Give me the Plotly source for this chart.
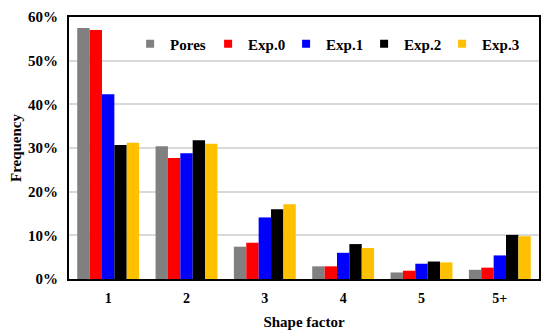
import plotly.graph_objects as go

categories = ["1", "2", "3", "4", "5", "5+"]
pores = [57.5, 30.4, 7.4, 2.9, 1.5, 2.1]
exp0 = [57.0, 27.7, 8.3, 2.9, 1.9, 2.6]
exp1 = [42.3, 28.8, 14.1, 6.0, 3.5, 5.4]
exp2 = [30.7, 31.8, 16.0, 8.0, 4.0, 10.1]
exp3 = [31.2, 31.0, 17.1, 7.1, 3.8, 9.8]
yticks = [0, 10, 20, 30, 40, 50, 60]

series = [("Pores", pores, "#808080"), ("Exp.0", exp0, "#ff0000"),
          ("Exp.1", exp1, "#0000ff"), ("Exp.2", exp2, "#000000"),
          ("Exp.3", exp3, "#ffc000")]

font = "Liberation Serif"
fig = go.Figure()
for name, vals, col in series:
    fig.add_trace(go.Bar(x=categories, y=vals, name=name, marker_color=col,
                         marker_line_width=0, showlegend=False))
# legend entries with small square symbols
for name, vals, col in series:
    fig.add_trace(go.Scatter(x=[None], y=[None], mode="markers", name="<b>%s</b>" % name,
                             marker=dict(symbol="square", size=8, color=col)))

fig.update_layout(
    width=550, height=330,
    margin=dict(l=61, r=19, t=9, b=59, autoexpand=False),
    paper_bgcolor="white", plot_bgcolor="white",
    bargap=0.21, bargroupgap=0,
    font=dict(family=font, size=14, color="black"),
    legend=dict(orientation="h", x=0.13, y=0.897, xanchor="left", yanchor="middle",
                bgcolor="rgba(0,0,0,0)", font=dict(family=font, size=15, color="black"),
                entrywidth=33, itemwidth=30, traceorder="normal", tracegroupgap=0),
)
fig.update_xaxes(showline=True, linecolor="black", linewidth=2, mirror=True,
                 ticks="", tickfont=dict(family=font, size=14, color="black"),
                 tickvals=categories, ticktext=["<b>%s</b>" % c for c in categories],
                 automargin=False, range=[-0.5, 5.5], ticklabelstandoff=5,
                 title=dict(text="<b>Shape factor</b>", standoff=12,
                            font=dict(family=font, size=15)))
fig.update_yaxes(range=[0, 60], tickvals=yticks,
                 ticktext=["<b>%d%%</b>" % v for v in yticks],
                 showline=True, linecolor="black", linewidth=2, mirror=True,
                 showgrid=True, gridcolor="#d9d9d9", gridwidth=1.5, zeroline=False,
                 ticks="", ticklabelstandoff=6, automargin=False,
                 tickfont=dict(family=font, size=15, color="black"),
                 title=dict(text="<b>Frequency</b>", standoff=14,
                            font=dict(family=font, size=15)))

fig.write_html("out.html")
